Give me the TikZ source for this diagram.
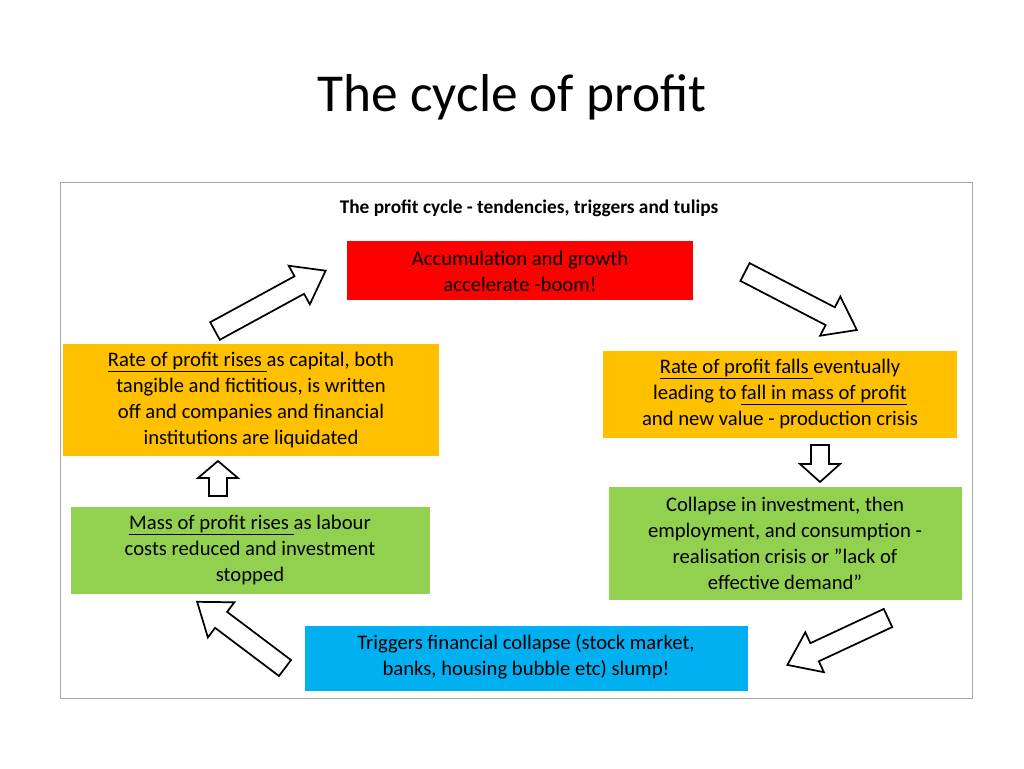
\documentclass[tikz,border=0pt]{standalone}
\usepackage{fontspec}
\setmainfont{Carlito}
\definecolor{bred}{HTML}{FF0000}
\definecolor{borange}{HTML}{FFC000}
\definecolor{bgreen}{HTML}{92D050}
\definecolor{bblue}{HTML}{00B0F0}
\newcommand\barrow[7]{% x,y,angle,length,shaft half,head half,head length
\begin{scope}[shift={(#1,#2)},rotate=#3]
\draw[line width=1.3pt,fill=white,line join=miter] (0,-#5)--(#4-#7,-#5)--(#4-#7,-#6)--(#4,0)--(#4-#7,#6)--(#4-#7,#5)--(0,#5)--cycle;
\end{scope}}
\begin{document}
\begin{tikzpicture}[x=0.75pt,y=-0.75pt,
 box/.style={draw=none,inner sep=0,align=center,font=\fontsize{15.5}{19.5}\selectfont}]
\useasboundingbox (0,0) rectangle (1024,768);
\node (title) at (512,97) {\fontsize{40}{48}\selectfont The cycle of profit};
\draw[gray!70,line width=0.6pt] (60,182) rectangle (972,698);
\node (head) at (529,208) {\fontsize{14.5}{17}\selectfont\bfseries The profit cycle - tendencies, triggers and tulips};
\fill[bred] (347,241) rectangle (693,300);
\node[box] (red) at (520,271) {Accumulation and growth\\accelerate -boom!};
\fill[borange] (63,344) rectangle (439,456);
\node[box] (ol) at (251,400) {\underline{Rate of profit rises }as capital, both\\tangible and fictitious, is written\\off and companies and financial\\institutions are liquidated};
\fill[borange] (603,351) rectangle (957,438);
\node[box] (or) at (780,394) {\underline{Rate of profit falls }eventually\\leading to \underline{fall in mass of profit}\\and new value - production crisis};
\fill[bgreen] (71,507) rectangle (430,594);
\node[box] (gl) at (250,550) {\underline{Mass of profit rises }as labour\\costs reduced and investment\\stopped};
\fill[bgreen] (609,487) rectangle (962,600);
\node[box] (gr) at (785,543) {Collapse in investment, then\\employment, and consumption -\\realisation crisis or "lack of\\effective demand"};
\fill[bblue] (305,626) rectangle (748,691);
\node[box] (bl) at (526,657) {Triggers financial collapse (stock market,\\banks, housing bubble etc) slump!};
\barrow{215}{331}{28.6}{126}{10}{22}{30}
\barrow{745}{272}{-27.4}{126}{10}{22}{30}
\barrow{820}{445}{-90}{37}{9}{20}{18}
\barrow{218}{496}{90}{35}{9}{20}{17}
\barrow{888}{618}{205}{111}{10}{22}{30}
\barrow{285}{668}{143}{110}{10}{22}{30}
\end{tikzpicture}
\end{document}
